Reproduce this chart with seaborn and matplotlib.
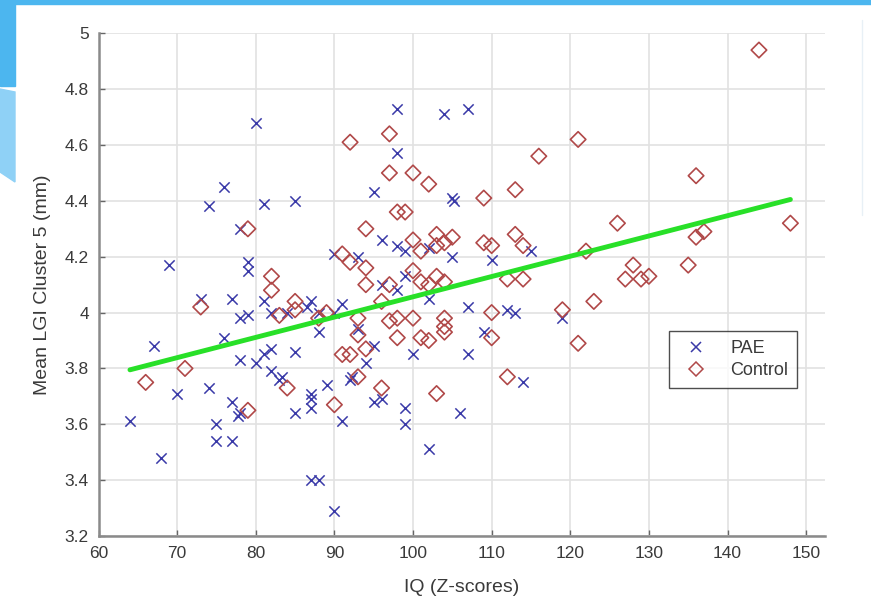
import matplotlib
matplotlib.use("Agg")
import matplotlib.pyplot as plt
from matplotlib.patches import Rectangle, Polygon
from matplotlib.lines import Line2D
from matplotlib.ticker import FuncFormatter
from matplotlib import font_manager
import seaborn as sns
import pandas as pd

# ---- data ----
pae_iq = [80, 76, 74, 81, 85, 78, 90, 69, 79, 79, 98, 104, 107, 98, 95, 105, 105.2,
          96, 98, 99, 102, 105, 110, 115, 93, 99, 73, 77, 81, 78, 79, 82, 84, 87,
          86.5, 88, 88, 91, 67, 76, 70, 78, 80, 81, 82, 82, 83, 83.4, 85, 74, 77,
          78, 77.7, 75, 64, 75, 77, 68, 85, 87, 87, 87, 89, 91, 87, 88, 90, 90,
          93, 95, 94, 92, 92.3, 95, 96, 99, 99, 102, 106, 100, 107, 114, 109, 107,
          112, 113, 119, 96, 98, 102]
pae_lgi = [4.68, 4.45, 4.38, 4.39, 4.40, 4.30, 4.21, 4.17, 4.18, 4.15, 4.73, 4.71,
           4.73, 4.57, 4.43, 4.41, 4.40, 4.26, 4.24, 4.22, 4.23, 4.20, 4.19, 4.22,
           4.20, 4.13, 4.05, 4.05, 4.04, 3.98, 3.99, 4.00, 4.00, 4.04, 4.02, 4.00,
           3.93, 4.03, 3.88, 3.91, 3.71, 3.83, 3.82, 3.85, 3.87, 3.79, 3.76, 3.77,
           3.86, 3.73, 3.68, 3.64, 3.63, 3.60, 3.61, 3.54, 3.54, 3.48, 3.64, 3.71,
           3.69, 3.66, 3.74, 3.61, 3.40, 3.40, 3.29, 4.00, 3.94, 3.88, 3.82, 3.76,
           3.77, 3.68, 3.69, 3.66, 3.60, 3.51, 3.64, 3.85, 3.85, 3.75, 3.93, 4.02,
           4.01, 4.00, 3.98, 4.10, 4.08, 4.05]

ctrl_iq = [79, 91, 82, 92, 97, 97, 100, 102, 116, 121, 109, 113, 98, 99, 94, 100,
           101, 103, 104, 105, 103, 109, 110, 113, 114, 92, 94, 100, 103, 144, 136,
           126, 148, 136, 137, 122, 128, 135, 127, 129, 130, 123, 121, 119, 82, 73,
           83, 85, 85, 89, 88, 66, 71, 84, 79, 90, 91, 93, 93, 92, 94, 93, 96, 103,
           112, 98, 101, 102, 104, 104, 104, 97, 98, 100, 110, 110, 94, 97, 101,
           102, 104, 112, 114, 96]
ctrl_lgi = [4.30, 4.21, 4.13, 4.61, 4.64, 4.50, 4.50, 4.46, 4.56, 4.62, 4.41, 4.44,
            4.36, 4.36, 4.30, 4.26, 4.22, 4.28, 4.25, 4.27, 4.24, 4.25, 4.24, 4.28,
            4.24, 4.18, 4.16, 4.15, 4.13, 4.94, 4.49, 4.32, 4.32, 4.27, 4.29, 4.22,
            4.17, 4.17, 4.12, 4.12, 4.13, 4.04, 3.89, 4.01, 4.08, 4.02, 3.99, 4.04,
            4.01, 4.00, 3.98, 3.75, 3.80, 3.73, 3.65, 3.67, 3.85, 3.98, 3.92, 3.85,
            3.87, 3.77, 3.73, 3.71, 3.77, 3.91, 3.91, 3.90, 3.98, 3.95, 3.93, 3.97,
            3.98, 3.98, 4.00, 3.91, 4.10, 4.10, 4.11, 4.10, 4.11, 4.12, 4.12, 4.04]

fit_iq = [64, 148]
fit_lgi = [3.795, 4.405]

x_ticks = [60, 70, 80, 90, 100, 110, 120, 130, 140, 150]
y_ticks = [3.2, 3.4, 3.6, 3.8, 4.0, 4.2, 4.4, 4.6, 4.8, 5.0]

pae_df = pd.DataFrame({"IQ": pae_iq, "LGI": pae_lgi})
ctrl_df = pd.DataFrame({"IQ": ctrl_iq, "LGI": ctrl_lgi})

sns.set_theme(style="white")
names = {f.name for f in font_manager.fontManager.ttflist}
if "Liberation Sans Narrow" in names:
    fam = ["Liberation Sans Narrow", "DejaVu Sans"]
elif "Liberation Sans" in names:
    fam = ["Liberation Sans", "DejaVu Sans"]
else:
    fam = ["DejaVu Sans"]
plt.rcParams["font.family"] = fam

BLUE = "#3a3aa8"
RED = "#b04848"
GREEN = "#28e028"
TXT = "#3a3a3a"

fig = plt.figure(figsize=(8.71, 6.03), dpi=100)
W, H = 871, 603

# slide decorations
fig.patches.append(Rectangle((0, 1 - 4 / H), 1, 4 / H, transform=fig.transFigure,
                             color="#4cb6ef", zorder=0))
fig.patches.append(Rectangle((0, 1 - 86 / H), 15 / W, 86 / H, transform=fig.transFigure,
                             color="#4cb6ef", zorder=0))
fig.patches.append(Polygon([(0, 1 - 89 / H), (15 / W, 1 - 92 / H), (15 / W, 1 - 182 / H),
                            (0, 1 - 172 / H)], closed=True, transform=fig.transFigure,
                           color="#8fd1f6", zorder=0))
fig.lines.append(Line2D([862 / W, 862 / W], [1 - 20 / H, 1 - 215 / H],
                        transform=fig.transFigure, color="#e8f0f6", linewidth=1))

ax = fig.add_axes([98.5 / W, 1 - 536 / H, (825 - 98.5) / W, (536 - 33.3) / H])

sns.scatterplot(data=pae_df, x="IQ", y="LGI", ax=ax, marker="x", color=BLUE,
                s=55, linewidth=1.1, zorder=3)
sns.scatterplot(data=ctrl_df, x="IQ", y="LGI", ax=ax, marker="D", s=62,
                facecolors="none", edgecolor=RED, linewidth=1.2, zorder=3)
sns.lineplot(x=fit_iq, y=fit_lgi, ax=ax, color=GREEN, linewidth=3.5, zorder=4)

ax.set_xlim(60, 152.4)
ax.set_ylim(3.2, 5.0)
ax.set_xticks(x_ticks)
ax.set_yticks(y_ticks)
ax.yaxis.set_major_formatter(FuncFormatter(lambda v, p: f"{v:g}"))
ax.grid(True, color="#e2e2e2", linewidth=1.2)
ax.set_axisbelow(True)
for s in ["top", "right"]:
    ax.spines[s].set_visible(False)
for s in ["left", "bottom"]:
    ax.spines[s].set_color("#8a8a8a")
    ax.spines[s].set_linewidth(1.8)
ax.tick_params(axis="both", direction="in", length=4, width=1, color="#666666",
               labelsize=12.5, labelcolor=TXT, pad=7, left=True, bottom=True)
ax.set_xlabel("IQ (Z-scores)", fontsize=14, color=TXT, labelpad=13)
ax.set_ylabel("Mean LGI Cluster 5 (mm)", fontsize=14, color=TXT, labelpad=10)

handles = [Line2D([], [], marker="x", linestyle="none", color=BLUE, markersize=7,
                  markeredgewidth=1.1),
           Line2D([], [], marker="D", linestyle="none", markerfacecolor="none",
                  markeredgecolor=RED, markersize=7, markeredgewidth=1.1)]
leg = ax.legend(handles, ["PAE", "Control"], loc="upper left",
                bbox_to_anchor=(0.785, 0.408), borderaxespad=0, frameon=True,
                fancybox=False, fontsize=13, handletextpad=0.9, borderpad=0.5,
                labelspacing=0.3)
leg.get_frame().set_edgecolor("#222222")
leg.get_frame().set_linewidth(1.0)
for t in leg.get_texts():
    t.set_color(TXT)

fig.savefig("out.png", dpi=100)
